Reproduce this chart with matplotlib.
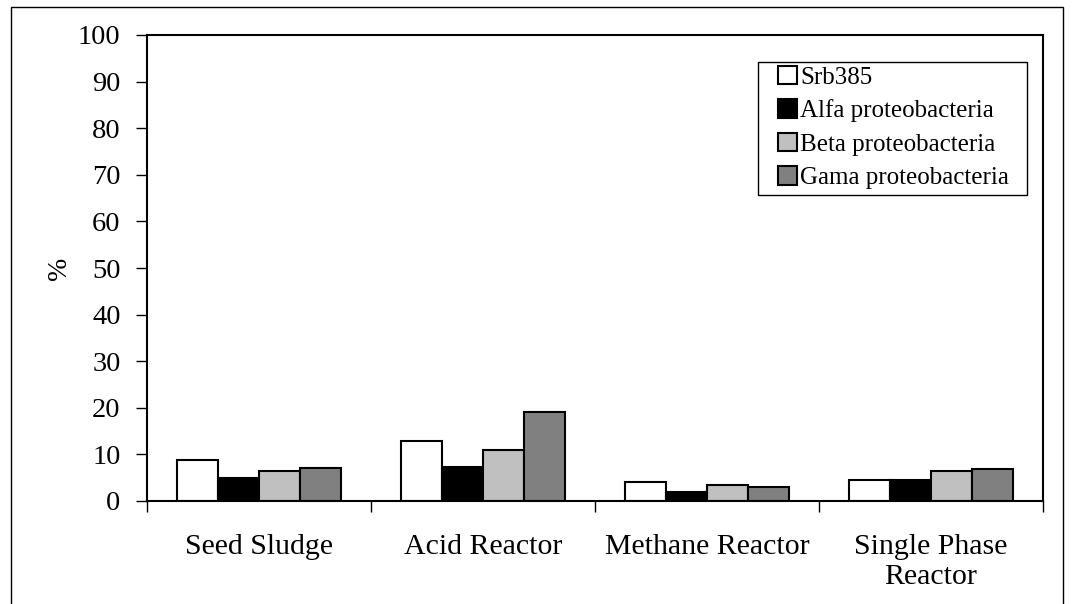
import numpy as np
import matplotlib.pyplot as plt
from matplotlib.patches import Rectangle

plt.rcParams['font.family'] = ['Liberation Serif', 'DejaVu Serif']

# 数据
categories = ['Seed Sludge', 'Acid Reactor', 'Methane Reactor', 'Single Phase\nReactor']
series_names = ['Srb385', 'Alfa proteobacteria', 'Beta proteobacteria', 'Gama proteobacteria']
srb385 = [8.8, 12.8, 4.0, 4.4]
alfa = [4.9, 7.4, 1.9, 4.6]
beta = [6.4, 10.9, 3.4, 6.4]
gama = [7.1, 19.2, 3.0, 6.9]
colors = ['white', 'black', '#c0c0c0', '#808080']

W, H = 1073, 604
fig = plt.figure(figsize=(W / 100, H / 100), dpi=100)
ax = fig.add_axes([147 / W, 1 - 501 / H, 896 / W, 466 / H])

# 外框
fig.patches.append(Rectangle((11 / W, -0.1), 1052 / W, 1.1 - 7 / H,
                             transform=fig.transFigure, fill=False,
                             edgecolor='black', linewidth=1.0))

x = np.arange(len(categories))
width = 0.182
all_series = [srb385, alfa, beta, gama]
for i, (vals, name, c) in enumerate(zip(all_series, series_names, colors)):
    ax.bar(x + (i - 1.5) * width, vals, width, color=c, edgecolor='black',
           linewidth=1.5, label=name)

ax.set_xlim(-0.5, len(categories) - 0.5)
ax.set_ylim(0, 100)
ax.set_yticks(np.arange(0, 101, 10))
ax.tick_params(axis='y', labelsize=20.5, direction='out', length=8, width=1, pad=11)

# x 轴刻度在类别边界
ax.set_xticks(np.arange(-0.5, len(categories), 1.0))
ax.set_xticklabels([])
ax.set_xticks(x, minor=True)
ax.set_xticklabels(categories, minor=True, fontsize=21.5)
ax.tick_params(axis='x', which='major', direction='out', length=8, width=1)
ax.tick_params(axis='x', which='minor', length=0, pad=24)

for s in ax.spines.values():
    s.set_linewidth(1.5)

ax.set_ylabel('%', fontsize=20, labelpad=4)

# 图例（边框单独画）
leg = ax.legend(loc='upper left', bbox_to_anchor=(778 / W, 1 - 66 / H),
                bbox_transform=fig.transFigure, fontsize=18, frameon=False,
                handlelength=0.75, handleheight=0.75, handletextpad=0.15,
                labelspacing=0.42, borderpad=0, borderaxespad=0)
fig.patches.append(Rectangle((758 / W, 1 - 195 / H), 269 / W, 133 / H,
                             transform=fig.transFigure, fill=False,
                             edgecolor='black', linewidth=1.0, zorder=5))

plt.savefig('out.png', dpi=100)
